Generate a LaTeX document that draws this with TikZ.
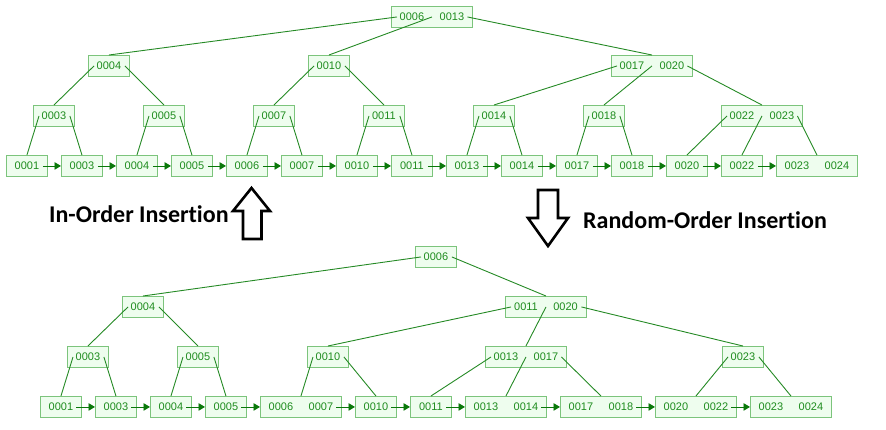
\documentclass[tikz,border=0pt]{standalone}
\usepackage{fontspec}
\setmainfont{Liberation Sans}
\newfontfamily\labelfont[Ligatures=NoCommon]{Carlito}
\usetikzlibrary{arrows.meta}
\definecolor{boxline}{HTML}{7CC47C}
\definecolor{boxfill}{HTML}{EEFDEE}
\definecolor{keytext}{HTML}{1E8C1E}
\definecolor{edgecol}{HTML}{258A25}
\definecolor{tipcol}{HTML}{0A780A}
\newcommand{\kk}[2]{#1\hspace{15.5pt}#2}
\tikzset{
  keybox/.style={draw=boxline, fill=boxfill, line width=0.9pt, minimum width=41pt,
    minimum height=21pt, inner sep=0pt, anchor=north west, text=keytext,
    font=\fontsize{11}{13}\selectfont},
  keyboxw/.style={keybox, minimum width=81pt},
  treeedge/.style={draw=edgecol, line width=0.9pt},
  leaflink/.style={draw=tipcol, line width=0.9pt, -{Triangle[length=6.5pt,width=7.5pt]}},
  bigarrow/.style={draw=black, line width=2.6pt, fill=white, line join=miter},
  caption/.style={font=\labelfont\bfseries\fontsize{24}{28}\selectfont, anchor=base west, inner sep=0pt}
}
\begin{document}
\begin{tikzpicture}[x=1pt,y=-1pt]
\useasboundingbox (0,0) rectangle (886,429);
% ---------------- top tree (in-order) ----------------
\node[keyboxw] (tr) at (391,6) {\kk{0006}{0013}};
\node[keybox] (t4) at (88,55) {0004};
\node[keybox] (t10) at (308,55) {0010};
\node[keyboxw] (t1720) at (611,55) {\kk{0017}{0020}};
\node[keybox] (t3) at (33,105) {0003};
\node[keybox] (t5) at (143,105) {0005};
\node[keybox] (t7) at (253,105) {0007};
\node[keybox] (t11) at (363,105) {0011};
\node[keybox] (t14) at (473,105) {0014};
\node[keybox] (t18) at (583,105) {0018};
\node[keyboxw] (t2223) at (721,105) {\kk{0022}{0023}};
\node[keybox] (u1) at (6,155) {0001};
\node[keybox] (u3) at (61,155) {0003};
\node[keybox] (u4) at (116,155) {0004};
\node[keybox] (u5) at (171,155) {0005};
\node[keybox] (u6) at (226,155) {0006};
\node[keybox] (u7) at (281,155) {0007};
\node[keybox] (u10) at (336,155) {0010};
\node[keybox] (u11) at (391,155) {0011};
\node[keybox] (u13) at (446,155) {0013};
\node[keybox] (u14) at (501,155) {0014};
\node[keybox] (u17) at (556,155) {0017};
\node[keybox] (u18) at (611,155) {0018};
\node[keybox] (u20) at (666,155) {0020};
\node[keybox] (u22) at (721,155) {0022};
\node[keyboxw] (u2324) at (776,155) {\kk{0023}{0024}};
% edges
\draw[treeedge] (t4.north) -- ([xshift=6pt]tr.west);
\draw[treeedge] (t10.north) -- (tr.center);
\draw[treeedge] (t1720.north) -- ([xshift=-5.5pt]tr.east);
\draw[treeedge] (t3.north) -- ([xshift=6pt]t4.west);
\draw[treeedge] (t5.north) -- ([xshift=-5pt]t4.east);
\draw[treeedge] (t7.north) -- ([xshift=6pt]t10.west);
\draw[treeedge] (t11.north) -- ([xshift=-5pt]t10.east);
\draw[treeedge] (t14.north) -- ([xshift=6pt]t1720.west);
\draw[treeedge] (t18.north) -- (t1720.center);
\draw[treeedge] (t2223.north) -- ([xshift=-5.5pt]t1720.east);
\draw[treeedge] (u1.north) -- ([xshift=6pt]t3.west);
\draw[treeedge] (u3.north) -- ([xshift=-5pt]t3.east);
\draw[treeedge] (u4.north) -- ([xshift=6pt]t5.west);
\draw[treeedge] (u5.north) -- ([xshift=-5pt]t5.east);
\draw[treeedge] (u6.north) -- ([xshift=6pt]t7.west);
\draw[treeedge] (u7.north) -- ([xshift=-5pt]t7.east);
\draw[treeedge] (u10.north) -- ([xshift=6pt]t11.west);
\draw[treeedge] (u11.north) -- ([xshift=-5pt]t11.east);
\draw[treeedge] (u13.north) -- ([xshift=6pt]t14.west);
\draw[treeedge] (u14.north) -- ([xshift=-5pt]t14.east);
\draw[treeedge] (u17.north) -- ([xshift=6pt]t18.west);
\draw[treeedge] (u18.north) -- ([xshift=-5pt]t18.east);
\draw[treeedge] (u20.north) -- ([xshift=6pt]t2223.west);
\draw[treeedge] (u22.north) -- (t2223.center);
\draw[treeedge] (u2324.north) -- ([xshift=-5.5pt]t2223.east);
% leaf links
\foreach \a/\b in {u1/u3,u3/u4,u4/u5,u5/u6,u6/u7,u7/u10,u10/u11,u11/u13,u13/u14,u14/u17,u17/u18,u18/u20,u20/u22,u22/u2324}
  \draw[leaflink] ([xshift=-5pt]\a.east) -- (\b.west);
% ---------------- bottom tree (random order) ----------------
\node[keybox] (br) at (415,246) {0006};
\node[keybox] (b4) at (122,296) {0004};
\node[keyboxw] (b1120) at (505,296) {\kk{0011}{0020}};
\node[keybox] (b3) at (67,346) {0003};
\node[keybox] (b5) at (177,346) {0005};
\node[keybox] (b10) at (307,346) {0010};
\node[keyboxw] (b1317) at (485,346) {\kk{0013}{0017}};
\node[keybox] (b23) at (722,346) {0023};
\node[keybox] (m1) at (40,396) {0001};
\node[keybox] (m3) at (95,396) {0003};
\node[keybox] (m4) at (150,396) {0004};
\node[keybox] (m5) at (205,396) {0005};
\node[keyboxw] (m67) at (260,396) {\kk{0006}{0007}};
\node[keybox] (m10) at (355,396) {0010};
\node[keybox] (m11) at (410,396) {0011};
\node[keyboxw] (m1314) at (465,396) {\kk{0013}{0014}};
\node[keyboxw] (m1718) at (560,396) {\kk{0017}{0018}};
\node[keyboxw] (m2022) at (655,396) {\kk{0020}{0022}};
\node[keyboxw] (m2324) at (750,396) {\kk{0023}{0024}};
\draw[treeedge] (b4.north) -- ([xshift=6pt]br.west);
\draw[treeedge] (b1120.north) -- ([xshift=-5pt]br.east);
\draw[treeedge] (b3.north) -- ([xshift=6pt]b4.west);
\draw[treeedge] (b5.north) -- ([xshift=-5pt]b4.east);
\draw[treeedge] (b10.north) -- ([xshift=6pt]b1120.west);
\draw[treeedge] (b1317.north) -- (b1120.center);
\draw[treeedge] (b23.north) -- ([xshift=-5.5pt]b1120.east);
\draw[treeedge] (m1.north) -- ([xshift=6pt]b3.west);
\draw[treeedge] (m3.north) -- ([xshift=-5pt]b3.east);
\draw[treeedge] (m4.north) -- ([xshift=6pt]b5.west);
\draw[treeedge] (m5.north) -- ([xshift=-5pt]b5.east);
\draw[treeedge] (m67.north) -- ([xshift=6pt]b10.west);
\draw[treeedge] (m10.north) -- ([xshift=-5pt]b10.east);
\draw[treeedge] (m11.north) -- ([xshift=6pt]b1317.west);
\draw[treeedge] (m1314.north) -- (b1317.center);
\draw[treeedge] (m1718.north) -- ([xshift=-5.5pt]b1317.east);
\draw[treeedge] (m2022.north) -- ([xshift=6pt]b23.west);
\draw[treeedge] (m2324.north) -- ([xshift=-5pt]b23.east);
\foreach \a/\b in {m1/m3,m3/m4,m4/m5,m5/m67,m67/m10,m10/m11,m11/m1314,m1314/m1718,m1718/m2022,m2022/m2324}
  \draw[leaflink] ([xshift=-5.5pt]\a.east) -- (\b.west);
% ---------------- big arrows and captions ----------------
\draw[bigarrow] (251.5,188) -- (270,211) -- (261.5,211) -- (261.5,239) -- (243,239) -- (243,211) -- (233,211) -- cycle;
\draw[bigarrow] (538,190) -- (558,190) -- (558,218) -- (568,218) -- (548,246) -- (528,218) -- (538,218) -- cycle;
\node[caption] (capin) at (49,222) {In-Order Insertion};
\node[caption] (capr) at (583,228) {Random-Order Insertion};
\end{tikzpicture}
\end{document}
